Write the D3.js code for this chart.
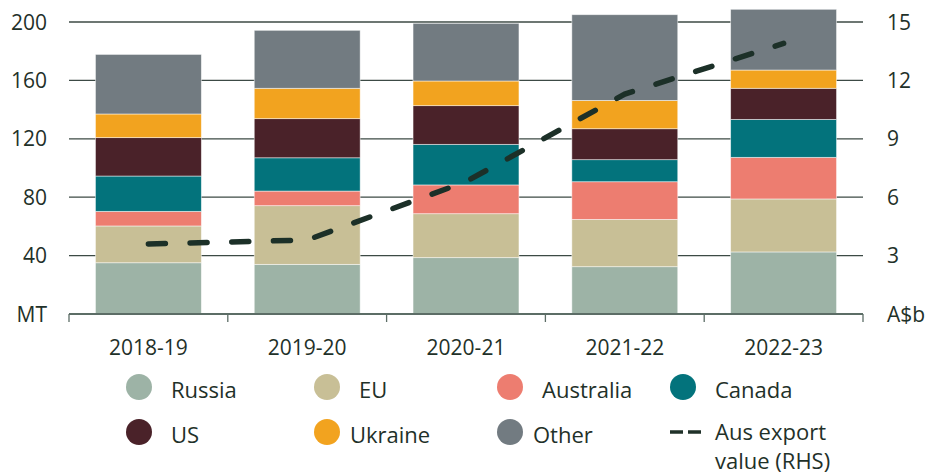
<!DOCTYPE html>
<html>
<head>
<meta charset="utf-8">
<script src="https://cdn.jsdelivr.net/npm/d3@7"></script>
<style>
  body { margin: 0; background: #fff; }
  text { font-family: "Open Sans", sans-serif; fill: #1f3129; }
</style>
</head>
<body>
<svg id="chart" width="926" height="476"></svg>
<script>
// values (MT, except export value in A$b)
const years = ["2018-19", "2019-20", "2020-21", "2021-22", "2022-23"];
const russia = [35.1, 34.0, 38.6, 32.4, 42.5];
const eu = [25.2, 40.2, 30.1, 32.4, 36.3];
const australia = [10.0, 10.0, 19.7, 25.8, 28.5];
const canada = [24.2, 22.8, 27.8, 15.1, 26.0];
const us = [26.3, 26.8, 26.5, 21.2, 21.3];
const ukraine = [16.2, 20.8, 16.9, 19.4, 12.5];
const other = [40.8, 39.7, 39.5, 58.7, 41.6];
const exportValue = [3.6, 3.8, 6.8, 11.3, 13.9];

const leftTicks = [40, 80, 120, 160, 200];
const rightTicks = [3, 6, 9, 12, 15];

const seriesNames = ["Russia", "EU", "Australia", "Canada", "US", "Ukraine", "Other"];
const seriesColors = ["#9db3a6", "#c8bf96", "#ed7d70", "#03737c", "#4a2229", "#f2a31f", "#727b81"];
const seriesValues = [russia, eu, australia, canada, us, ukraine, other];

const svg = d3.select("#chart");
const plot = {left: 69, right: 863, top: 22, bottom: 314};
const ink = "#1f3129";

const table = years.map((yr, i) => {
    const row = {year: yr};
    seriesNames.forEach((n, k) => { row[n] = seriesValues[k][i]; });
    return row;
});

const x = d3.scaleBand().domain(years)
    .range([plot.left, plot.right])
    .paddingInner(0.333).paddingOuter(0.1665);
const y = d3.scaleLinear().domain([0, 200]).range([plot.bottom, plot.top]);
const y2 = d3.scaleLinear().domain([0, 15]).range([plot.bottom, plot.top]);

// gridlines
svg.append("g").selectAll("line").data(leftTicks).join("line")
    .attr("x1", plot.left).attr("x2", plot.right)
    .attr("y1", d => y(d)).attr("y2", d => y(d))
    .attr("stroke", "#3c4a45").attr("stroke-width", 1.3);

// stacked bars
const stack = d3.stack().keys(seriesNames)(table);
svg.append("g").selectAll("g").data(stack).join("g")
    .attr("fill", (d, i) => seriesColors[i])
    .selectAll("rect").data(d => d).join("rect")
    .attr("x", d => x(d.data.year))
    .attr("width", x.bandwidth())
    .attr("y", d => y(d[1]))
    .attr("height", d => y(d[0]) - y(d[1]))
    .attr("stroke", "#ffffff").attr("stroke-opacity", 0.6).attr("stroke-width", 0.8);

// bottom axis with ticks at band boundaries
svg.append("line")
    .attr("x1", plot.left).attr("x2", plot.right)
    .attr("y1", plot.bottom).attr("y2", plot.bottom)
    .attr("stroke", "#5c6d66").attr("stroke-width", 1.8);
const bounds = years.map(yr => x(yr) - x.step() * x.paddingInner() / 2).concat([plot.right]);
svg.append("g").selectAll("line").data(bounds).join("line")
    .attr("x1", d => d).attr("x2", d => d)
    .attr("y1", plot.bottom).attr("y2", plot.bottom + 8)
    .attr("stroke", "#5c6d66").attr("stroke-width", 1.3);

svg.append("g").selectAll("text").data(years).join("text")
    .attr("x", d => x(d) + x.bandwidth() / 2)
    .attr("y", 355)
    .attr("text-anchor", "middle")
    .attr("font-size", 21)
    .text(d => d);

// left labels
svg.append("g").selectAll("text").data(leftTicks).join("text")
    .attr("x", 47).attr("y", d => y(d))
    .attr("dy", "0.36em")
    .attr("text-anchor", "end")
    .attr("font-size", 21)
    .text(d => d);
svg.append("text").attr("x", 47).attr("y", plot.bottom).attr("dy", "0.36em")
    .attr("text-anchor", "end").attr("font-size", 21).text("MT");

// right labels
svg.append("g").selectAll("text").data(rightTicks).join("text")
    .attr("x", 887).attr("y", d => y2(d))
    .attr("dy", "0.36em")
    .attr("font-size", 21)
    .text(d => d);
svg.append("text").attr("x", 887).attr("y", plot.bottom).attr("dy", "0.36em")
    .attr("font-size", 21).text("A$b");

// export value line (RHS)
const line = d3.line()
    .x((d, i) => x(years[i]) + x.bandwidth() / 2)
    .y(d => y2(d));
svg.append("path").datum(exportValue)
    .attr("d", line)
    .attr("fill", "none")
    .attr("stroke", "#1c3028")
    .attr("stroke-width", 5.5)
    .attr("stroke-linecap", "round")
    .attr("stroke-dasharray", "17 24.7");

// legend
const legendCols = [139, 327, 510, 683];
const legendRows = [387, 432];
const legend = svg.append("g");
seriesNames.forEach((name, k) => {
    const cx = legendCols[k % 4], cy = legendRows[Math.floor(k / 4)];
    legend.append("circle").attr("cx", cx).attr("cy", cy).attr("r", 13)
        .attr("fill", seriesColors[k]);
    const tight = (name === "Ukraine" || name === "Other");
    legend.append("text")
        .attr("x", cx + (tight ? 23 : 32))
        .attr("y", cy + 11)
        .attr("font-size", 22)
        .text(name);
});
legend.append("line")
    .attr("x1", 670).attr("x2", 701).attr("y1", 432).attr("y2", 432)
    .attr("stroke", ink).attr("stroke-width", 3.5)
    .attr("stroke-dasharray", "13 5");
legend.append("text").attr("x", 715).attr("y", 440).attr("font-size", 22).text("Aus export");
legend.append("text").attr("x", 715).attr("y", 469).attr("font-size", 22).text("value (RHS)");
</script>
</body>
</html>
